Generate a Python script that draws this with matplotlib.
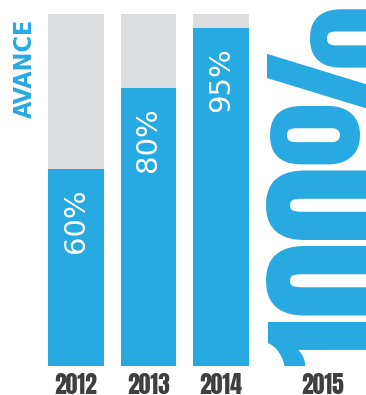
import matplotlib
matplotlib.use("Agg")
import matplotlib.pyplot as plt

BLUE = "#27a9e1"
GREY = "#dcdddf"
DARK = "#3f3f41"
HEAVY = ["Anton", "DejaVu Sans"]

years = ["2012", "2013", "2014", "2015"]
# heights as drawn in the picture, and the labels printed in the bars
bar_heights = [56, 79, 96]
labels = ["60%", "80%", "95%"]
goal_label = "100%"

x_pos = [0, 1, 2, 3.4]

fig = plt.figure(figsize=(3.66, 3.95), dpi=100)
ax = fig.add_axes([0, 29 / 395, 1, 352 / 395])
ax.set_xlim(-1.048, 4.0)
ax.set_ylim(0, 100)

ax.bar(x_pos[:3], [100] * 3, width=0.772, color=GREY, zorder=1)
ax.bar(x_pos[:3], bar_heights, width=0.772, color=BLUE, zorder=2)

for x, v, lab in zip(x_pos, bar_heights, labels):
    ax.text(x, v - 5.5, lab, rotation=90, ha="center", va="top",
            color="white", fontsize=21, family="DejaVu Sans", zorder=3)

ax.text(x_pos[3] + 0.27, 51.5, goal_label, rotation=90, ha="center", va="center",
        color=BLUE, fontsize=110, family=HEAVY, clip_on=False, zorder=3)

ax.set_xticks(x_pos)
ax.set_xticklabels(years)
for t in ax.get_xticklabels():
    t.set_fontsize(17)
    t.set_color(DARK)
    t.set_family(HEAVY)
ax.tick_params(axis="x", length=0, pad=5)
ax.set_yticks([])
for s in ax.spines.values():
    s.set_visible(False)

fig.text(25 / 366, 1 - 68 / 395, "AVANCE", rotation=90, ha="center", va="center",
         color=BLUE, fontsize=18, fontweight="semibold", fontstretch="condensed",
         family="DejaVu Sans")

fig.savefig("out.png", dpi=100)
